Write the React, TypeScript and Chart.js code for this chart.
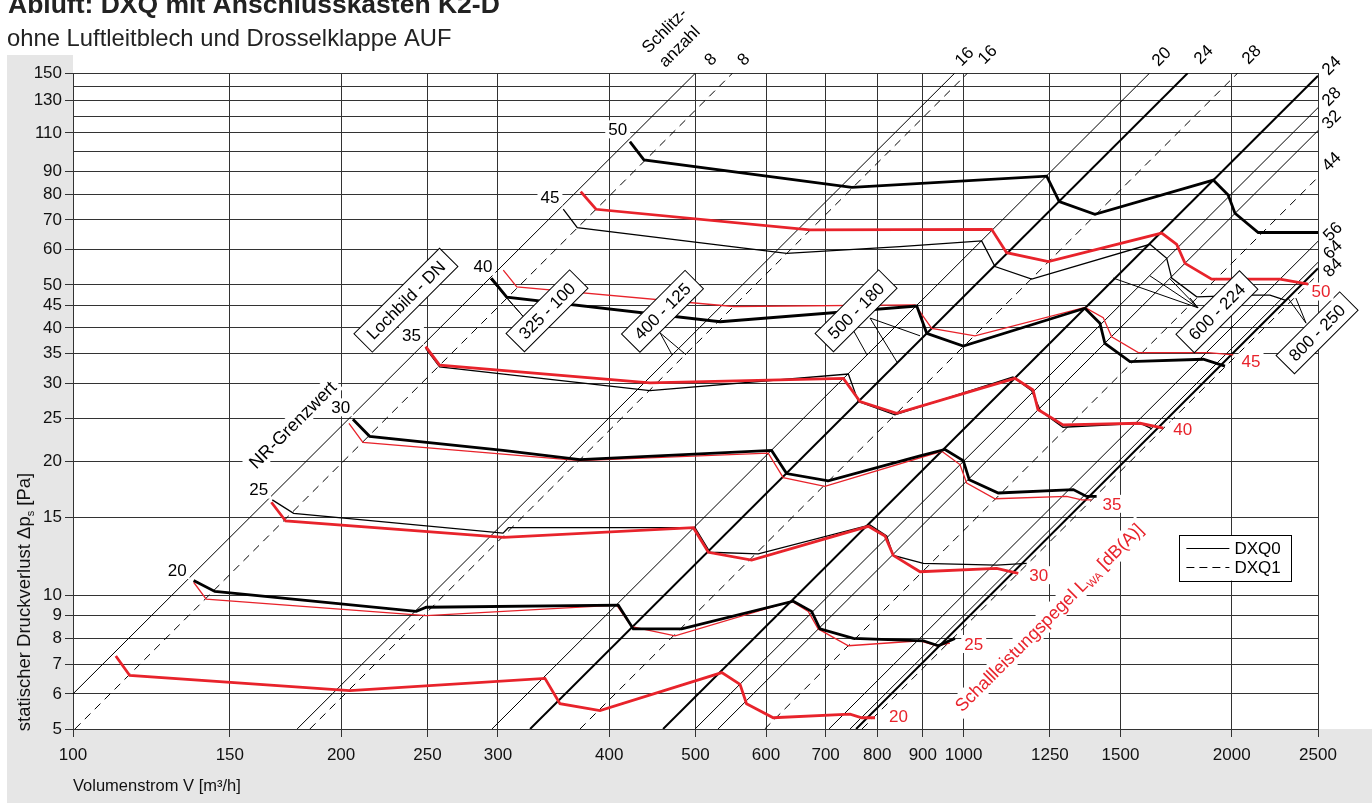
import React, { useEffect, useRef } from 'react';
import { Chart, registerables } from 'chart.js';

Chart.register(...registerables);

const FONT = '"Liberation Sans", Arial, Helvetica, sans-serif';
const RED = '#e8232b';
const INK = '#111';

// ---------- axes ----------
const X_TICKS = [100, 150, 200, 250, 300, 400, 500, 600, 700, 800, 900, 1000, 1250, 1500, 2000, 2500];
const Y_TICKS = [5, 6, 7, 8, 9, 10, 15, 20, 25, 30, 35, 40, 45, 50, 60, 70, 80, 90, 100, 110, 120, 130, 140, 150];
const Y_TICK_LABELS = [5, 6, 7, 8, 9, 10, 15, 20, 25, 30, 35, 40, 45, 50, 60, 70, 80, 90, 110, 130, 150];

// ---------- slot-count lines (dp ~ V^2): volume flow where each line meets 5 Pa ----------
const SLOT_LINE_XB = [91.3, 100.5, 178.5, 184.5, 295.4, 326.0, 370.9, 459.8, 499.4, 530.0, 598.0, 706.0, 745.6, 757.3, 769.0];
const SLOT_LINE_KIND = ['thin', 'dash', 'thin', 'dash', 'thin', 'thick', 'dash', 'thick', 'thin', 'thin', 'dash', 'thin', 'thin', 'thick', 'dash'];

// ---------- sound power level curves [V m3/h, dp Pa] ----------
const LWA50_DXQ0: [number, number][] = [[422, 105.1], [437.6, 95.6], [748.9, 82.9], [1239.7, 87.9], [1280.7, 77.0], [1404, 72.1], [1907, 86.1], [1982, 79.7], [2017, 72.5], [2142, 65.6], [2500, 65.6]];
const LWA45_DXQ0: [number, number][] = [[355.2, 74.1], [368.3, 67.3], [632.8, 58.9], [848.3, 61.0], [1047.8, 62.8], [1084.5, 55.0], [1192.5, 51.5], [1619, 61.7], [1690.7, 57.4], [1712.7, 51.8], [1827, 47.0], [2106, 47.4], [2208, 47.4], [2296, 46.2]];
const LWA50_DXQ1: [number, number][] = [[371.6, 81.1], [386.6, 74.0], [672.2, 66.5], [1075.2, 66.7], [1117.7, 59.1], [1244.9, 56.4], [1669, 65.4], [1735, 61.7], [1772.8, 55.9], [1899, 51.5], [2266, 51.5], [2438, 50.2]];
const LWA40_DXQ0: [number, number][] = [[294.9, 51.8], [306.9, 46.9], [532.9, 41.3], [886, 44.8], [909.1, 38.9], [999.1, 36.4], [1368.5, 44.3], [1422.6, 41.0], [1441.1, 36.9], [1537.6, 33.6], [1858.3, 34.0], [1965.6, 32.8]];
const LWA45_DXQ1: [number, number][] = [[304.2, 54.0], [315.0, 49.5], [551.5, 44.7], [882.1, 45.1], [920.9, 39.9], [1029.8, 38.4], [1368.5, 44.5], [1434.8, 42.2], [1466.2, 38.2], [1571, 35.2], [1882.5, 35.2], [2008, 34.8]];
const LWA35_DXQ0: [number, number][] = [[248.9, 36.0], [258, 32.7], [444.4, 28.9], [742.3, 31.5], [761.8, 27.3], [837.4, 25.5], [1136, 31.0], [1192.5, 28.9], [1220, 26.0], [1293, 23.9], [1578, 24.4], [1628, 23.7]];
const LWA40_DXQ1: [number, number][] = [[248.9, 36.3], [258, 33.0], [444.4, 30.1], [732.8, 30.8], [765.1, 27.3], [841, 25.7], [1142, 30.8], [1196.6, 29.0], [1212, 26.2], [1293, 24.2], [1578, 24.4], [1676, 23.8]];
const LWA30_DXQ0: [number, number][] = [[206.2, 24.9], [215.3, 22.8], [304, 21.2], [370.9, 20.2], [608.7, 21.2], [632.8, 18.8], [704.7, 18.1], [893.5, 20.6], [953.1, 21.3], [999.1, 20.1], [1014.8, 18.2], [1093.8, 17.0], [1327.8, 17.3], [1374.5, 16.7], [1410.5, 16.7]];
const LWA35_DXQ1: [number, number][] = [[204.1, 24.4], [211.6, 22.1], [304, 20.8], [370.9, 20.1], [603.4, 20.9], [627.3, 18.4], [698.6, 17.6], [945, 21.1], [990.6, 19.7], [1007.9, 17.9], [1084.5, 16.5], [1305.4, 16.7], [1356.8, 16.4], [1392.3, 16.4]];
const LWA25_DXQ0: [number, number][] = [[167.4, 16.4], [176.9, 15.3], [304, 13.8], [308.2, 14.2], [499.4, 14.2], [519.2, 12.5], [588.1, 12.4], [785.1, 14.4], [819.7, 13.6], [833.7, 12.3], [901.2, 11.8], [1089.3, 11.7], [1177.1, 11.8]];
const LWA30_DXQ1: [number, number][] = [[167.0, 16.2], [173.3, 14.7], [304.5, 13.5], [497.3, 14.2], [516.9, 12.5], [578.1, 12.0], [781.6, 14.3], [816.1, 13.6], [833.7, 12.3], [893.5, 11.3], [1089.3, 11.5], [1151.9, 11.2]];
const LWA20_DXQ0: [number, number][] = [[136.6, 10.8], [144.3, 10.2], [242.9, 9.2], [249.3, 9.4], [409.5, 9.5], [425.7, 8.4], [482.6, 8.4], [643.8, 9.7], [675.1, 9.2], [689.7, 8.4], [752, 8.0], [901.2, 7.9], [936.8, 7.7], [977.9, 8.0]];
const LWA25_DXQ1: [number, number][] = [[136.6, 10.7], [141.1, 9.8], [249.3, 9.0], [407.8, 9.5], [423.9, 8.5], [474.3, 8.1], [641.2, 9.7], [669.2, 9.2], [686.7, 8.4], [742.3, 7.7], [893.5, 7.9], [933, 7.7], [965.4, 7.8]];
const LWA20_DXQ1: [number, number][] = [[111.7, 7.3], [115.8, 6.6], [204.5, 6.1], [338.8, 6.5], [352.2, 5.7], [390.6, 5.5], [535.2, 6.7], [561, 6.3], [570.5, 5.7], [611.3, 5.3], [745.6, 5.4], [768.5, 5.3], [795.3, 5.3]];

// ---------- labels ----------
const BLACK_LEVEL_LABELS = ['20', '25', '30', '35', '40', '45', '50'];
const BLACK_LEVEL_POS: [number, number][] = [[130.9, 11.4], [161.6, 17.3], [199.8, 26.5], [239.9, 38.4], [288.6, 55.0], [343.2, 78.8], [408.9, 112.0]];
const RED_LEVEL_LABELS = ['20', '25', '30', '35', '40', '45', '50'];
const RED_LEVEL_POS: [number, number][] = [[824.7, 5.35], [1001.8, 7.77], [1185, 11.1], [1432, 16.07], [1720, 23.7], [2052, 33.6], [2459, 48.3]];
const TOP_SLOT_LABELS = ['8', '8', '16', '16', '20', '24', '28'];
const TOP_SLOT_POS: [number, number][] = [[520.5, 160.6], [566.7, 160.6], [1003, 163], [1065, 164.7], [1670, 163], [1861, 164.7], [2107, 164.7]];
const RIGHT_SLOT_LABELS = ['24', '28', '32', '44', '56', '64', '84'];
const RIGHT_SLOT_POS: [number, number][] = [[2591, 155.5], [2591, 132.5], [2591, 117.6], [2591, 94.6], [2600, 65.8], [2600, 59.9], [2600, 54.6]];
const SIZE_LABELS = ['Lochbild - DN', '325 - 100', '400 - 125', '500 - 180', '600 - 224', '800 - 250'];
const SIZE_POS: [number, number][] = [[236.5, 46.2], [340.6, 43.7], [459.1, 43.6], [757.3, 43.7], [1925, 43.5], [2494, 39.0]];
const LEADER_LINES: [number, number][][] = [
  [[320.4, 42.4], [293.9, 51.6]], [[320.4, 42.4], [307.1, 46.7]],
  [[456.2, 39.0], [470.6, 34.8]], [[456.2, 39.0], [487.9, 34.8]],
  [[749.4, 40.0], [779.0, 34.8]], [[785.1, 42.1], [893.5, 38.4]], [[785.1, 42.1], [841.9, 33.5]],
  [[1833, 44.4], [1472, 51.8]], [[1833, 44.4], [1619, 52.4]], [[1833, 44.4], [1705, 51.6]], [[1833, 44.4], [1796, 46.7]],
  [[2424, 41.0], [2313, 46.7]], [[2424, 41.0], [2361, 46.7]],
];
const NR_LABEL_POS: [number, number] = [176.5, 24.2];
const SCHLITZ_POS: [number, number][] = [[462.1, 186.5], [480.3, 171.7]];
const LWA_LABEL_POS: [number, number] = [1247, 8.91];
const LEGEND_BOX: [number, number][] = [[1747, 13.67], [2336, 10.79]];

type Curve = { data: [number, number][]; color: string; thick: boolean };
const CURVES: Curve[] = [
  { data: LWA50_DXQ0, color: '#000', thick: true },
  { data: LWA45_DXQ0, color: '#000', thick: false },
  { data: LWA50_DXQ1, color: RED, thick: true },
  { data: LWA40_DXQ0, color: '#000', thick: true },
  { data: LWA45_DXQ1, color: RED, thick: false },
  { data: LWA35_DXQ0, color: '#000', thick: false },
  { data: LWA40_DXQ1, color: RED, thick: true },
  { data: LWA30_DXQ0, color: '#000', thick: true },
  { data: LWA35_DXQ1, color: RED, thick: false },
  { data: LWA25_DXQ0, color: '#000', thick: false },
  { data: LWA30_DXQ1, color: RED, thick: true },
  { data: LWA20_DXQ0, color: '#000', thick: true },
  { data: LWA25_DXQ1, color: RED, thick: false },
  { data: LWA20_DXQ1, color: RED, thick: true },
];

function drawRich(ctx: CanvasRenderingContext2D, parts: { t: string; sub?: boolean }[], size: number, x: number, y: number, align: 'left' | 'center') {
  const widths = parts.map((p) => {
    ctx.font = `${p.sub ? Math.round(size * 0.62) : size}px ${FONT}`;
    return ctx.measureText(p.t).width;
  });
  const total = widths.reduce((a, b) => a + b, 0);
  let cx = align === 'center' ? x - total / 2 : x;
  ctx.textAlign = 'left';
  ctx.textBaseline = 'middle';
  parts.forEach((p, i) => {
    ctx.font = `${p.sub ? Math.round(size * 0.62) : size}px ${FONT}`;
    ctx.fillText(p.t, cx, p.sub ? y + size * 0.3 : y);
    cx += widths[i];
  });
  return total;
}

function rotBox(ctx: CanvasRenderingContext2D, text: string, x: number, y: number) {
  ctx.save();
  ctx.translate(x, y);
  ctx.rotate(-Math.PI / 4);
  ctx.font = `17px ${FONT}`;
  const w = ctx.measureText(text).width + 18;
  const h = 26;
  ctx.fillStyle = '#fff';
  ctx.fillRect(-w / 2, -h / 2, w, h);
  ctx.strokeStyle = '#000';
  ctx.lineWidth = 1;
  ctx.strokeRect(-w / 2, -h / 2, w, h);
  ctx.fillStyle = '#000';
  ctx.textAlign = 'center';
  ctx.textBaseline = 'middle';
  ctx.fillText(text, 0, 1);
  ctx.restore();
}

const bgPlugin = {
  id: 'bgPlugin',
  beforeDraw(chart: any) {
    const { ctx, chartArea: a } = chart;
    ctx.save();
    ctx.fillStyle = '#fff';
    ctx.fillRect(0, 0, chart.width, chart.height);
    ctx.fillStyle = '#e6e6e6';
    ctx.fillRect(7, 55, a.left - 7, chart.height - 55);
    ctx.fillRect(7, a.bottom, chart.width - 7, chart.height - a.bottom);
    ctx.fillStyle = '#222';
    ctx.textAlign = 'left';
    ctx.textBaseline = 'alphabetic';
    ctx.font = `bold 26.5px ${FONT}`;
    ctx.fillText('Abluft: DXQ mit Anschlusskasten K2-D', 8, 13);
    ctx.font = `23.8px ${FONT}`;
    ctx.fillText('ohne Luftleitblech und Drosselklappe AUF', 7, 46);
    ctx.fillStyle = INK;
    ctx.font = `16.5px ${FONT}`;
    ctx.fillText('Volumenstrom V [m³/h]', a.left, 791);
    ctx.save();
    ctx.translate(25, 602);
    ctx.rotate(-Math.PI / 2);
    drawRich(ctx, [{ t: 'statischer Druckverlust Δp' }, { t: 's', sub: true }, { t: ' [Pa]' }], 18.5, 0, 0, 'center');
    ctx.restore();
    ctx.restore();
  },
};

const annotPlugin = {
  id: 'annotPlugin',
  afterDatasetsDraw(chart: any) {
    const ctx: CanvasRenderingContext2D = chart.ctx;
    const xs = chart.scales.x;
    const ys = chart.scales.y;
    const px = (v: number) => xs.getPixelForValue(v);
    const py = (v: number) => ys.getPixelForValue(v);
    ctx.save();

    // leader lines
    ctx.strokeStyle = '#000';
    ctx.lineWidth = 1;
    LEADER_LINES.forEach(([p1, p2]) => {
      ctx.beginPath();
      ctx.moveTo(px(p1[0]), py(p1[1]));
      ctx.lineTo(px(p2[0]), py(p2[1]));
      ctx.stroke();
    });

    // size boxes
    SIZE_LABELS.forEach((t, i) => rotBox(ctx, t, px(SIZE_POS[i][0]), py(SIZE_POS[i][1])));

    // black level labels
    ctx.font = `17px ${FONT}`;
    ctx.textAlign = 'center';
    ctx.textBaseline = 'middle';
    BLACK_LEVEL_LABELS.forEach((t, i) => {
      const x = px(BLACK_LEVEL_POS[i][0]);
      const y = py(BLACK_LEVEL_POS[i][1]);
      const w = ctx.measureText(t).width;
      ctx.fillStyle = '#fff';
      ctx.fillRect(x - w / 2 - 3, y - 9, w + 6, 18);
      ctx.fillStyle = '#000';
      ctx.fillText(t, x, y + 1);
    });

    // red level labels
    ctx.textAlign = 'left';
    RED_LEVEL_LABELS.forEach((t, i) => {
      const x = px(RED_LEVEL_POS[i][0]);
      const y = py(RED_LEVEL_POS[i][1]);
      const w = ctx.measureText(t).width;
      ctx.fillStyle = '#fff';
      ctx.fillRect(x - 3, y - 9, w + 6, 18);
      ctx.fillStyle = RED;
      ctx.fillText(t, x, y + 1);
    });

    // NR-Grenzwert
    {
      ctx.save();
      ctx.translate(px(NR_LABEL_POS[0]), py(NR_LABEL_POS[1]));
      ctx.rotate(-Math.PI / 4);
      ctx.font = `18px ${FONT}`;
      const t = 'NR-Grenzwert';
      const w = ctx.measureText(t).width;
      ctx.fillStyle = '#fff';
      ctx.fillRect(-w / 2 - 4, -10, w + 8, 20);
      ctx.fillStyle = '#000';
      ctx.textAlign = 'center';
      ctx.textBaseline = 'middle';
      ctx.fillText(t, 0, 1);
      ctx.restore();
    }

    // slot count labels
    const rotLabel = (t: string, x: number, y: number) => {
      ctx.save();
      ctx.translate(x, y);
      ctx.rotate(-Math.PI / 4);
      ctx.font = `17px ${FONT}`;
      ctx.fillStyle = '#000';
      ctx.textAlign = 'center';
      ctx.textBaseline = 'middle';
      ctx.fillText(t, 0, 0);
      ctx.restore();
    };
    TOP_SLOT_LABELS.forEach((t, i) => rotLabel(t, px(TOP_SLOT_POS[i][0]), py(TOP_SLOT_POS[i][1])));
    RIGHT_SLOT_LABELS.forEach((t, i) => rotLabel(t, px(RIGHT_SLOT_POS[i][0]), py(RIGHT_SLOT_POS[i][1])));
    rotLabel('Schlitz-', px(SCHLITZ_POS[0][0]), py(SCHLITZ_POS[0][1]));
    rotLabel('anzahl', px(SCHLITZ_POS[1][0]), py(SCHLITZ_POS[1][1]));

    // Schallleistungspegel label
    {
      ctx.save();
      ctx.translate(px(LWA_LABEL_POS[0]), py(LWA_LABEL_POS[1]));
      ctx.rotate(-Math.PI / 4);
      const parts = [{ t: 'Schallleistungspegel L' }, { t: 'WA', sub: true }, { t: ' [dB(A)]' }];
      let total = 0;
      parts.forEach((p) => {
        ctx.font = `${p.sub ? 11 : 18}px ${FONT}`;
        total += ctx.measureText(p.t).width;
      });
      ctx.fillStyle = '#fff';
      ctx.fillRect(-total / 2 - 4, -11, total + 8, 22);
      ctx.fillStyle = RED;
      drawRich(ctx, parts, 18, 0, 1, 'center');
      ctx.restore();
    }

    // legend
    {
      const x1 = px(LEGEND_BOX[0][0]);
      const y1 = py(LEGEND_BOX[0][1]);
      const x2 = px(LEGEND_BOX[1][0]);
      const y2 = py(LEGEND_BOX[1][1]);
      ctx.fillStyle = '#fff';
      ctx.fillRect(x1, y1, x2 - x1, y2 - y1);
      ctx.strokeStyle = '#000';
      ctx.lineWidth = 1;
      ctx.strokeRect(Math.round(x1) + 0.5, Math.round(y1) + 0.5, Math.round(x2 - x1), Math.round(y2 - y1));
      const rows = [{ t: 'DXQ0', dash: [] as number[] }, { t: 'DXQ1', dash: [8, 5] }];
      rows.forEach((r, i) => {
        const yy = Math.round(y1 + 13 + i * 19) + 0.5;
        ctx.setLineDash(r.dash);
        ctx.beginPath();
        ctx.moveTo(x1 + 7, yy);
        ctx.lineTo(x1 + 50, yy);
        ctx.stroke();
        ctx.setLineDash([]);
        ctx.fillStyle = '#000';
        ctx.font = `17px ${FONT}`;
        ctx.textAlign = 'left';
        ctx.textBaseline = 'middle';
        ctx.fillText(r.t, x1 + 55, yy + 1);
      });
    }
    ctx.restore();
  },
};

export default function App() {
  const ref = useRef<HTMLCanvasElement | null>(null);

  useEffect(() => {
    if (!ref.current) return;
    const slotSets = SLOT_LINE_XB.map((xb, i) => {
      const k = 5 / (xb * xb);
      const x0 = Math.max(100, xb);
      const x1 = Math.min(2500, xb * Math.sqrt(30));
      const kind = SLOT_LINE_KIND[i];
      return {
        data: [{ x: x0, y: k * x0 * x0 }, { x: x1, y: k * x1 * x1 }],
        borderColor: '#000',
        borderWidth: kind === 'thick' ? 2 : 1,
        borderDash: kind === 'dash' ? [8, 6] : [],
        pointRadius: 0,
        order: 3,
      };
    });
    const curveSets = CURVES.map((c) => ({
      data: c.data.map(([x, y]) => ({ x, y })),
      borderColor: c.color,
      borderWidth: c.thick ? 2.8 : 1.3,
      pointRadius: 0,
      borderJoinStyle: 'miter' as const,
      order: c.thick ? 1 : 2,
    }));

    const chart = new Chart(ref.current, {
      type: 'line',
      data: { datasets: [...curveSets, ...slotSets] as any },
      options: {
        animation: false,
        responsive: false,
        devicePixelRatio: 1,
        layout: { padding: { left: 0, top: 73, right: 54, bottom: 0 } },
        plugins: { legend: { display: false }, tooltip: { enabled: false }, title: { display: false } },
        elements: { line: { tension: 0 }, point: { radius: 0 } },
        scales: {
          x: {
            type: 'logarithmic',
            min: 100,
            max: 2500,
            afterBuildTicks: (s: any) => {
              s.ticks = X_TICKS.map((v) => ({ value: v }));
            },
            afterFit: (s: any) => {
              s.height = 74;
            },
            ticks: {
              autoSkip: false,
              maxRotation: 0,
              minRotation: 0,
              padding: 8,
              color: INK,
              font: { family: FONT, size: 17 },
              callback: (v: any) => String(v),
            },
            grid: { color: '#333', lineWidth: 1, tickLength: 8, tickColor: '#333' },
            border: { color: '#333' },
          },
          y: {
            type: 'logarithmic',
            min: 5,
            max: 150,
            afterBuildTicks: (s: any) => {
              s.ticks = Y_TICKS.map((v) => ({ value: v }));
            },
            afterFit: (s: any) => {
              s.width = 73;
            },
            ticks: {
              autoSkip: false,
              padding: 3,
              color: INK,
              font: { family: FONT, size: 17 },
              callback: (v: any) => (Y_TICK_LABELS.includes(Number(v)) ? String(v) : ''),
            },
            grid: {
              color: '#333',
              lineWidth: 1,
              tickLength: 8,
              tickColor: (c: any) => (c.tick && Y_TICK_LABELS.includes(c.tick.value) ? '#333' : 'rgba(0,0,0,0)'),
            },
            border: { color: '#333' },
          },
        },
      } as any,
      plugins: [bgPlugin, annotPlugin],
    });
    return () => chart.destroy();
  }, []);

  return (
    <div style={{ position: 'absolute', left: 0, top: 0, width: 1372, height: 803 }}>
      <canvas ref={ref} width={1372} height={803} style={{ display: 'block', width: 1372, height: 803 }} />
    </div>
  );
}
